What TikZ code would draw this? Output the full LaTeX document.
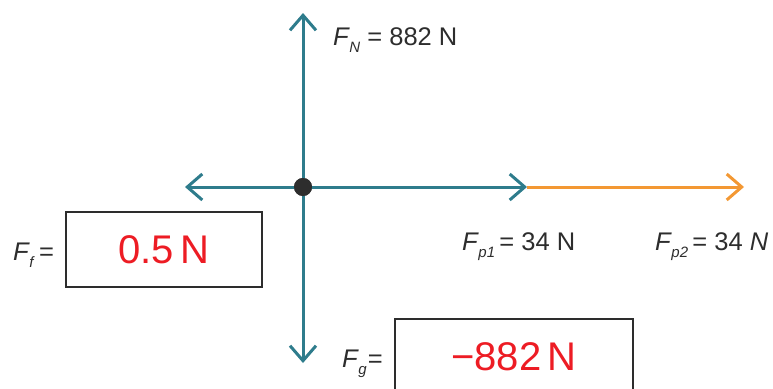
\documentclass[tikz,border=0pt]{standalone}
\usepackage{fontspec}
\setmainfont{Liberation Sans}
\usetikzlibrary{arrows.meta}
\definecolor{vteal}{RGB}{46,124,140}
\definecolor{vorange}{RGB}{243,152,51}
\definecolor{vred}{RGB}{237,28,36}
\definecolor{vgray}{RGB}{45,45,45}
\newcommand{\Fs}[1]{\textit{F}\kern-0.5pt\raisebox{-7.5pt}{\fontsize{15}{15}\selectfont\textit{#1}}}
\tikzset{
  force/.style={line width=3pt, -{Straight Barb[length=15pt,width=26pt,line width=3pt]}},
  lbl/.style={anchor=base west, inner sep=0pt, text=vgray, font=\fontsize{25.5}{25.5}\selectfont},
  valbox/.style={draw=vgray, line width=2pt, fill=white, minimum width=196pt, minimum height=75pt, inner sep=0pt, text=vred, font=\fontsize{40}{40}\selectfont},
}
\begin{document}
\begin{tikzpicture}[x=1pt,y=-1pt]
\clip (0,0) rectangle (773,388);
\node[circle, fill=vgray, minimum size=18pt, inner sep=0pt] (c) at (303,187) {};
\coordinate (top) at (303,13);
\coordinate (bot) at (303,363);
\coordinate (lft) at (185,187);
\coordinate (p1) at (527,187);
\coordinate (p2) at (744,187);
\draw[force, vorange] (p1) -- (p2);
\draw[force, vteal] (c.center) -- (top);
\draw[force, vteal] (c.center) -- (bot);
\draw[force, vteal] (c.center) -- (lft);
\draw[force, vteal] (c.center) -- (p1);
\node[circle, fill=vgray, minimum size=18pt, inner sep=0pt] at (c) {};
\node[lbl] (fn) at (333,45) {\Fs{N} = 882 N};
\node[lbl] (ff) at (13,260) {\Fs{f}\,=};
\node[valbox] (bf) at (164,249.5) {0.5\,N};
\node[lbl] (fg) at (342,367) {\Fs{g}\kern1pt=};
\node[valbox, minimum width=238pt] (bg) at (514,356.5) {−882\,N};
\node[lbl] (fp1) at (462,250) {\Fs{p1}\,= 34 N};
\node[lbl] (fp2) at (655,250) {\Fs{p2}\,= 34 \textit{N}};
\end{tikzpicture}
\end{document}
